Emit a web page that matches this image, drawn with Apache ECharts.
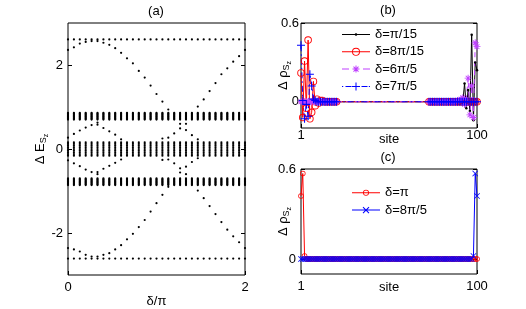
<!DOCTYPE html>
<html>
<head>
<meta charset="utf-8">
<script src="https://cdn.jsdelivr.net/npm/echarts@6/dist/echarts.min.js"></script>
<style>
html,body{margin:0;padding:0;background:#fff;}
#chart{width:526px;height:309px;}
</style>
</head>
<body>
<div id="chart"></div>
<script>
// ================= DATA =================
// panel (a): delta / pi  (k*pi/15, k = 0..30)
const deltas = [0,0.0667,0.1333,0.2,0.2667,0.3333,0.4,0.4667,0.5333,0.6,0.6667,0.7333,0.8,0.8667,0.9333,1,1.0667,1.1333,1.2,1.2667,1.3333,1.4,1.4667,1.5333,1.6,1.6667,1.7333,1.8,1.8667,1.9333,2];
// bulk eigenvalue levels present at every delta
const flatLevels = [2.61, -2.61];
const bandUpper = [0.70,0.72,0.74,0.76,0.78,0.80,0.82,0.84,0.86];
const bandMid   = [-0.16,-0.12,-0.08,-0.04,0,0.04,0.08,0.12,0.16];
const bandLower = [-0.86,-0.84,-0.82,-0.80,-0.78,-0.76,-0.74,-0.72,-0.70];
const N = null;
// in-gap (edge) states, one value per delta (null = none)
const outerUpA = [2.36,2.42,2.51,2.55,2.57,2.57,2.53,2.48,2.40,2.29,2.16,2.04,1.86,1.70,1.51,1.31,1.13,0.94,N,N,N,N,N,N,N,N,N,N,N,N,N];
const outerUpB = [N,N,N,N,N,N,N,N,N,N,N,N,N,N,N,N,N,N,N,N,N,N,1.01,1.18,1.38,1.57,1.78,1.92,2.08,2.21,2.36];
const outerLoA = [-2.36,-2.39,-2.44,-2.52,-2.56,-2.56,-2.52,-2.48,-2.39,-2.29,-2.15,-2.02,-1.86,-1.69,-1.49,-1.29,-1.09,-0.90,N,N,N,N,N,N,N,N,N,N,N,N,N];
const outerLoB = [N,N,N,N,N,N,N,N,N,N,N,N,N,N,N,N,N,N,N,N,N,N,-0.99,-1.17,-1.36,-1.55,-1.74,-1.92,-2.08,-2.22,-2.36];
const innerUpA = [0.27,0.36,0.44,0.51,0.57,0.63,0.50,0.42,0.34,0.23,N,N,N,N,N,N,N,N,N,N,N,N,N,N,N,N,N,N,N,N,N];
const innerUpB = [N,N,N,N,N,N,N,N,N,N,N,N,N,N,N,N,0.25,0.27,0.37,0.60,0.60,0.33,0.23,N,N,N,N,N,N,N,N];
const innerLoA = [-0.27,-0.34,-0.41,-0.49,-0.55,-0.60,-0.47,-0.40,-0.33,-0.25,N,N,N,N,N,N,N,N,N,N,N,N,N,N,N,N,N,N,N,N,N];
const innerLoB = [N,N,N,N,N,N,N,N,N,N,N,N,N,N,N,N,-0.26,-0.25,-0.34,-0.56,-0.60,-0.31,-0.22,N,N,N,N,N,N,N,N];
const innerUpX = [N,N,N,N,N,0.58,N,N,N,N,N,N,N,N,N,N,N,N,N,0.49,0.45,N,N,N,N,N,N,N,N,N,N];
const innerLoX = [N,N,N,N,N,-0.55,N,N,N,N,N,N,N,N,N,N,N,N,N,-0.46,-0.42,N,N,N,N,N,N,N,N,N,N];

// panels (b),(c): site index
const sites = [1,2,3,4,5,6,7,8,9,10,11,12,13,14,15,16,17,18,19,20,21,22,23,24,25,26,27,28,29,30,31,32,33,34,35,36,37,38,39,40,41,42,43,44,45,46,47,48,49,50,51,52,53,54,55,56,57,58,59,60,61,62,63,64,65,66,67,68,69,70,71,72,73,74,75,76,77,78,79,80,81,82,83,84,85,86,87,88,89,90,91,92,93,94,95,96,97,98,99,100];
const rhoPi15 = [
 0,0,0,0,0,0,0,0,0,0,
 0,0,0,0,0,0,0,0,0,0,
 0,0,0,0,0,0,0,0,0,0,
 0,0,0,0,0,0,0,0,0,0,
 0,0,0,0,0,0,0,0,0,0,
 0,0,0,0,0,0,0,0,0,0,
 0,0,0,0,0,0,0,0,0,0,
 0,0,0,0,0,0,0,0,0,0,
 0,0,0,0,0,0,0,0,0,0,
 0.01,-0.01,0.14,-0.05,0.09,-0.07,0.51,-0.14,0.30,0.24];
const rho8Pi15 = [
 0.22,-0.12,0.31,-0.05,0.47,-0.13,-0.08,0.155,-0.03,0.02,
 -0.01,0.01,0.01,0,0,0,0,0,0,0,
 0,0,0,0,0,0,0,0,0,0,
 0,0,0,0,0,0,0,0,0,0,
 0,0,0,0,0,0,0,0,0,0,
 0,0,0,0,0,0,0,0,0,0,
 0,0,0,0,0,0,0,0,0,0,
 0,0,0,0,0,0,0,0,0,0,
 0,0,0,0,0,0,0,0,0,0,
 0,0,0,0,0,0,0,0,0,0];
const rho6Pi5 = [
 0,0,0,0,0,0,0,0,0,0,
 0,0,0,0,0,0,0,0,0,0,
 0,0,0,0,0,0,0,0,0,0,
 0,0,0,0,0,0,0,0,0,0,
 0,0,0,0,0,0,0,0,0,0,
 0,0,0,0,0,0,0,0,0,0,
 0,0,0,0,0,0,0,0,0,0,
 0,0,0,0,0,0,0,0,0,0,
 0,0,0,0,0,0,0,0,0.01,0.01,
 0.02,0.03,-0.02,0.02,0.18,-0.10,0.12,-0.12,0.45,0.42];
const rho7Pi5 = [
 0.43,0.01,-0.13,-0.02,-0.11,0.21,0.12,0.02,0.01,0,
 0,0,0,0,0,0,0,0,0,0,
 0,0,0,0,0,0,0,0,0,0,
 0,0,0,0,0,0,0,0,0,0,
 0,0,0,0,0,0,0,0,0,0,
 0,0,0,0,0,0,0,0,0,0,
 0,0,0,0,0,0,0,0,0,0,
 0,0,0,0,0,0,0,0,0,0,
 0,0,0,0,0,0,0,0,0,0,
 0,0,0,0,0,0,0,0,0,0];
const rhoPi = [
 0.42,0.57,0.02,0,0,0,0,0,0,0,
 0,0,0,0,0,0,0,0,0,0,
 0,0,0,0,0,0,0,0,0,0,
 0,0,0,0,0,0,0,0,0,0,
 0,0,0,0,0,0,0,0,0,0,
 0,0,0,0,0,0,0,0,0,0,
 0,0,0,0,0,0,0,0,0,0,
 0,0,0,0,0,0,0,0,0,0,
 0,0,0,0,0,0,0,0,0,0,
 0,0,0,0,0,0,0,0,0,0];
const rho8Pi5 = [
 0,0,0,0,0,0,0,0,0,0,
 0,0,0,0,0,0,0,0,0,0,
 0,0,0,0,0,0,0,0,0,0,
 0,0,0,0,0,0,0,0,0,0,
 0,0,0,0,0,0,0,0,0,0,
 0,0,0,0,0,0,0,0,0,0,
 0,0,0,0,0,0,0,0,0,0,
 0,0,0,0,0,0,0,0,0,0,
 0,0,0,0,0,0,0,0,0,0,
 0,0,0,0,0,0,0,0.02,0.57,0.42];

const ticksAX = [0, 2], ticksAY = [-2, 0, 2];
const ticksSite = [1, 100], ticksRho = [0, 0.6];

// ================= BUILD =================
const specPts = [];
deltas.forEach((d, k) => {
  [flatLevels, bandUpper, bandMid, bandLower].forEach(lv => lv.forEach(e => specPts.push([d, e])));
  [outerUpA, outerUpB, outerLoA, outerLoB, innerUpA, innerUpB, innerLoA, innerLoB, innerUpX, innerLoX]
    .forEach(arr => { if (arr[k] !== null) specPts.push([d, arr[k]]); });
});
const pairs = arr => sites.map((s, i) => [s, arr[i]]);

// ---- marker / legend icon shapes ----
function seg(x1, y1, x2, y2, t) {
  const dx = x2 - x1, dy = y2 - y1, L = Math.hypot(dx, dy);
  const nx = -dy / L * t / 2, ny = dx / L * t / 2;
  let p = [[x1 + nx, y1 + ny], [x2 + nx, y2 + ny], [x2 - nx, y2 - ny], [x1 - nx, y1 - ny]];
  let a = 0;
  for (let i = 0; i < 4; i++) { const q = p[i], r = p[(i + 1) % 4]; a += q[0] * r[1] - r[0] * q[1]; }
  if (a < 0) p.reverse();
  return 'M' + p.map(q => q[0].toFixed(3) + ',' + q[1].toFixed(3)).join('L') + 'Z';
}
function circ(cx, cy, r, sweep) {
  return `M${cx - r},${cy}A${r},${r} 0 0 ${sweep} ${cx + r},${cy}A${r},${r} 0 0 ${sweep} ${cx - r},${cy}Z`;
}
function ring(cx, cy, r, t) { return circ(cx, cy, r, 1) + circ(cx, cy, r - t, 0); }
const hline = (a, b) => seg(a, 7, b, 7, 1);

const plusSym = 'path://' + seg(5, 0, 5, 10, 1.3) + seg(0, 5, 10, 5, 1.3);
const crossSym = 'path://' + seg(0.6, 0.6, 9.4, 9.4, 1.3) + seg(9.4, 0.6, 0.6, 9.4, 1.3);
const starSym = 'path://' + seg(5, 0, 5, 10, 1.3) + seg(0, 5, 10, 5, 1.3) + seg(1.6, 1.6, 8.4, 8.4, 1.3) + seg(8.4, 1.6, 1.6, 8.4, 1.3);
const ringSym = 'path://' + ring(5, 5, 5, 1.2);

const icBlack = 'path://' + hline(0, 28) + circ(14, 7, 1.3, 1);
const icRed = 'path://' + hline(0, 28) + ring(14, 7, 4, 0.9);
const icMag = 'path://' + hline(0, 7) + hline(21, 28) + seg(14, 3.5, 14, 10.5, 1) + seg(10.5, 7, 17.5, 7, 1) + seg(11.5, 4.5, 16.5, 9.5, 1) + seg(16.5, 4.5, 11.5, 9.5, 1);
const icBlue = 'path://' + hline(0, 1.2) + hline(3.5, 9.5) + seg(14, 3, 14, 11, 1) + seg(10, 7, 18, 7, 1) + hline(19.5, 25.5) + hline(26.8, 28);
const icRedC = 'path://' + hline(0, 28) + ring(14, 7, 3, 0.8);
const icBlueC = 'path://' + hline(0, 28) + seg(11, 4, 17, 10, 1) + seg(17, 4, 11, 10, 1);

const FONT = 'Liberation Sans, Arial, Helvetica, sans-serif';
const FS = 13;

function xAx(g, min, max, vals, margin, name, gap) {
  return {
    type: 'value', gridIndex: g, min, max,
    axisLine: { show: false, onZero: false }, splitLine: { show: false },
    axisTick: { show: true, inside: true, length: 4, customValues: vals, lineStyle: { color: '#000' } },
    axisLabel: { customValues: vals, margin, color: '#000', fontSize: FS, fontFamily: FONT },
    name, nameLocation: 'middle', nameGap: gap, nameMoveOverlap: false,
    nameTextStyle: { color: '#000', fontSize: FS, fontFamily: FONT }
  };
}
const nameRich = {
  m: { fontSize: FS, lineHeight: 20, verticalAlign: 'middle', fontFamily: FONT, color: '#000' },
  s: { fontSize: 9, verticalAlign: 'bottom', padding: [0, 0, 2, 0], fontFamily: FONT, color: '#000' },
  z: { fontSize: 7, verticalAlign: 'bottom', fontFamily: FONT, color: '#000' }
};
function yAx(g, min, max, vals, margin, name, gap) {
  return {
    type: 'value', gridIndex: g, min, max,
    axisLine: { show: false, onZero: false }, splitLine: { show: false },
    axisTick: { show: true, inside: true, length: 4, customValues: vals, lineStyle: { color: '#000' } },
    axisLabel: { customValues: vals, margin, color: '#000', fontSize: FS, fontFamily: FONT },
    name, nameLocation: 'middle', nameGap: gap, nameRotate: 90, nameMoveOverlap: false,
    nameTextStyle: { rich: nameRich }
  };
}
function yAxR(g, min, max, vals) {
  return {
    type: 'value', gridIndex: g, min, max, position: 'right',
    axisLine: { show: false, onZero: false }, splitLine: { show: false },
    axisTick: { show: true, inside: true, length: 4, customValues: vals, lineStyle: { color: '#000' } },
    axisLabel: { show: false }
  };
}
const edgeOnly = (size) => (v, p) => (p.dataIndex < 21 || p.dataIndex >= 72) ? size : 0;
const gridBase = { show: true, borderColor: '#000', borderWidth: 1, backgroundColor: 'transparent', containLabel: false, outerBoundsMode: 'none' };

const option = {
  animation: false,
  backgroundColor: '#fff',
  textStyle: { fontFamily: FONT },
  grid: [
    Object.assign({ left: 68, top: 23, width: 177, height: 252 }, gridBase),
    Object.assign({ left: 301, top: 23, width: 176, height: 105 }, gridBase),
    Object.assign({ left: 301, top: 169, width: 176, height: 105 }, gridBase)
  ],
  xAxis: [
    xAx(0, 0, 2, ticksAX, 6, 'δ/π', 20),
    xAx(1, 1, 100, ticksSite, 1, 'site', 5),
    xAx(2, 1, 100, ticksSite, 6, 'site', 7)
  ],
  yAxis: [
    yAx(0, -3, 3, ticksAY, 5, '{m|Δ E}{s|S}{z|z}', 18),
    yAxR(0, -3, 3, ticksAY),
    yAx(1, -0.2, 0.6, ticksRho, 2, '{m|Δ ρ}{s|S}{z|z}', 8),
    yAxR(1, -0.2, 0.6, ticksRho),
    yAx(2, -0.1, 0.6, ticksRho, 5, '{m|Δ ρ}{s|S}{z|z}', 8),
    yAxR(2, -0.1, 0.6, ticksRho)
  ],
  legend: [
    {
      left: 342, top: 28, orient: 'vertical', itemWidth: 28, itemHeight: 14, itemGap: 4.3, padding: 0,
      selectedMode: false, itemStyle: { borderWidth: 0 },
      textStyle: { fontSize: FS, color: '#000', fontFamily: FONT },
      data: [
        { name: 'δ=π/15', icon: icBlack }, { name: 'δ=8π/15', icon: icRed },
        { name: 'δ=6π/5', icon: icMag }, { name: 'δ=7π/5', icon: icBlue }
      ]
    },
    {
      left: 352, top: 186.3, orient: 'vertical', itemWidth: 28, itemHeight: 14, itemGap: 4.3, padding: 0,
      selectedMode: false, itemStyle: { borderWidth: 0 },
      textStyle: { fontSize: FS, color: '#000', fontFamily: FONT },
      data: [{ name: 'δ=π', icon: icRedC }, { name: 'δ=8π/5', icon: icBlueC }]
    }
  ],
  graphic: [
    { type: 'text', x: 156, y: 11, style: { text: '(a)', fontSize: FS, fontFamily: FONT, fill: '#000', textAlign: 'center', textVerticalAlign: 'middle' } },
    { type: 'text', x: 388, y: 10, style: { text: '(b)', fontSize: FS, fontFamily: FONT, fill: '#000', textAlign: 'center', textVerticalAlign: 'middle' } },
    { type: 'text', x: 388, y: 157, style: { text: '(c)', fontSize: FS, fontFamily: FONT, fill: '#000', textAlign: 'center', textVerticalAlign: 'middle' } }
  ],
  series: [
    {
      type: 'scatter', name: 'spectrum', xAxisIndex: 0, yAxisIndex: 0, data: specPts,
      symbol: 'circle', symbolSize: 2.2, itemStyle: { color: '#000', opacity: 1 }, silent: true
    },
    {
      type: 'line', name: 'δ=π/15', xAxisIndex: 1, yAxisIndex: 2, data: pairs(rhoPi15),
      symbol: 'circle', symbolSize: edgeOnly(2.5), itemStyle: { color: '#000', borderWidth: 0 },
      lineStyle: { color: '#000', width: 1 }, silent: true
    },
    {
      type: 'line', name: 'δ=8π/15', xAxisIndex: 1, yAxisIndex: 2, data: pairs(rho8Pi15),
      symbol: ringSym, symbolSize: edgeOnly(7.5), itemStyle: { color: '#ff0000', borderWidth: 0 },
      lineStyle: { color: '#ff0000', width: 1 }, silent: true
    },
    {
      type: 'line', name: 'δ=6π/5', xAxisIndex: 1, yAxisIndex: 2, data: pairs(rho6Pi5),
      symbol: starSym, symbolSize: edgeOnly(7), itemStyle: { color: '#bf40ff', borderWidth: 0 },
      lineStyle: { color: '#bf40ff', width: 1, type: [5, 4] }, silent: true
    },
    {
      type: 'line', name: 'δ=7π/5', xAxisIndex: 1, yAxisIndex: 2, data: pairs(rho7Pi5),
      symbol: plusSym, symbolSize: edgeOnly(8), itemStyle: { color: '#0000ff', borderWidth: 0 },
      lineStyle: { color: '#0000ff', width: 1, type: [6, 3, 1.5, 3] }, silent: true
    },
    {
      type: 'line', name: 'δ=π', xAxisIndex: 2, yAxisIndex: 4, data: pairs(rhoPi),
      symbol: ringSym, symbolSize: 5.5, itemStyle: { color: '#ff0000', borderWidth: 0 },
      lineStyle: { color: '#ff0000', width: 1 }, silent: true
    },
    {
      type: 'line', name: 'δ=8π/5', xAxisIndex: 2, yAxisIndex: 4, data: pairs(rho8Pi5),
      symbol: crossSym, symbolSize: 6, itemStyle: { color: '#0000ff', borderWidth: 0 },
      lineStyle: { color: '#0000ff', width: 1 }, silent: true
    }
  ]
};
const chart = echarts.init(document.getElementById('chart'), null, { renderer: 'canvas' });
chart.setOption(option);
</script>
</body>
</html>
